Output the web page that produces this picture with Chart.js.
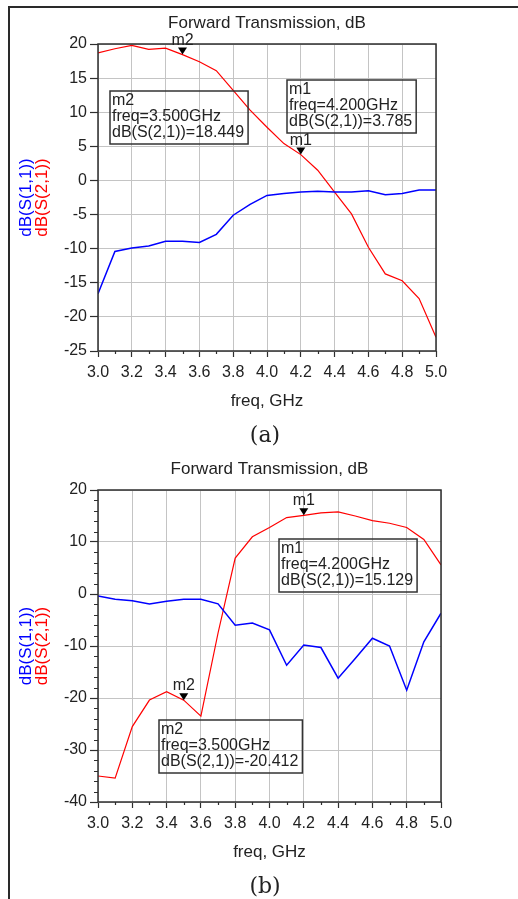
<!DOCTYPE html>
<html>
<head>
<meta charset="utf-8">
<script src="https://cdn.jsdelivr.net/npm/chart.js@4.4.1/dist/chart.umd.min.js"></script>
<style>
  html, body { margin: 0; padding: 0; background: #fff; }
  #page { position: relative; width: 518px; height: 899px; overflow: hidden; }
  #frame { position: absolute; left: 8px; top: 6px; right: -4px; bottom: -4px;
           border-left: 2px solid #2a2a2a; border-top: 2px solid #2a2a2a; }
  canvas { position: absolute; left: 0; }
</style>
</head>
<body>
<div id="page">
  <div id="frame"></div>
  <canvas id="chartA" width="518" height="452" style="top:0"></canvas>
  <canvas id="chartB" width="518" height="447" style="top:452px"></canvas>
</div>
<script>
// frequências (GHz) e rótulos do eixo x
const freqGHz = [3.0, 3.1, 3.2, 3.3, 3.4, 3.5, 3.6, 3.7, 3.8, 3.9, 4.0, 4.1, 4.2, 4.3, 4.4, 4.5, 4.6, 4.7, 4.8, 4.9, 5.0];
const xTickLabels = ['3.0', '3.2', '3.4', '3.6', '3.8', '4.0', '4.2', '4.4', '4.6', '4.8', '5.0'];

// (a)
const s11A = [-16.6, -10.4, -9.9, -9.6, -8.9, -8.9, -9.1, -7.9, -5.1, -3.5, -2.2, -1.9, -1.7, -1.6, -1.7, -1.7, -1.5, -2.1, -1.9, -1.4, -1.4];
const s21A = [18.7, 19.3, 19.8, 19.2, 19.4, 18.449, 17.4, 16.1, 13.2, 10.3, 7.8, 5.4, 3.785, 1.5, -1.7, -4.9, -9.8, -13.7, -14.7, -17.3, -23.0];
const markerNamesA = ['m2', 'm1'];
const markerFreqA = [3.5, 4.2];

// (b)
const s11B = [-0.4, -1.0, -1.3, -1.9, -1.4, -1.0, -1.0, -1.9, -6.0, -5.6, -6.9, -13.7, -9.8, -10.3, -16.2, -12.4, -8.5, -10.0, -18.5, -9.2, -3.7];
const s21B = [-35.0, -35.4, -25.5, -20.4, -18.8, -20.412, -23.5, -7.5, 6.9, 11.0, 12.8, 14.7, 15.129, 15.6, 15.8, 15.0, 14.1, 13.6, 12.8, 10.5, 5.6];
const markerNamesB = ['m1', 'm2'];
const markerFreqB = [4.2, 3.5];

const FONT = "'Liberation Sans', Arial, sans-serif";

// Desenha moldura, ticks menores, títulos e marcadores no estilo ADS
const adsDeco = {
  id: 'adsDeco',
  afterDraw(chart, args, o) {
    const { ctx, chartArea: a, scales: { x, y } } = chart;
    const s21 = chart.data.datasets[1].data;
    ctx.save();

    ctx.strokeStyle = '#2e2e2e';
    ctx.lineWidth = 1.5;
    ctx.strokeRect(a.left, a.top, a.right - a.left, a.bottom - a.top);

    // ticks menores
    ctx.lineWidth = 1.2;
    ctx.beginPath();
    for (let k = 31; k < 50; k += 2) {
      const px = Math.round(x.getPixelForValue(k / 10)) + 0.5;
      ctx.moveTo(px, a.bottom);
      ctx.lineTo(px, a.bottom + 3);
    }
    if (o.yMinor) {
      for (let v = y.min; v <= y.max; v += o.yMinor) {
        if (v % o.yMajor === 0) continue;
        const py = Math.round(y.getPixelForValue(v)) + 0.5;
        ctx.moveTo(a.left - 4, py);
        ctx.lineTo(a.left, py);
      }
    }
    ctx.stroke();

    const cx = (a.left + a.right) / 2;
    ctx.fillStyle = '#222';
    ctx.textAlign = 'center';
    ctx.textBaseline = 'alphabetic';
    ctx.font = '17px ' + FONT;
    ctx.fillText('Forward Transmission, dB', cx, a.top - 16);
    ctx.fillText('freq, GHz', cx, a.bottom + 55);

    ctx.font = '22px "DejaVu Serif", serif';
    ctx.fillText(o.caption, 265, a.bottom + 91);

    // título do eixo y em duas cores
    ctx.font = '17px ' + FONT;
    const cy = (a.top + a.bottom) / 2;
    [['dB(S(1,1))', '#0000ff', 31], ['dB(S(2,1))', '#ff0000', 47]].forEach(([t, c, bx]) => {
      ctx.save();
      ctx.translate(bx, cy);
      ctx.rotate(-Math.PI / 2);
      ctx.fillStyle = c;
      ctx.fillText(t, 0, 0);
      ctx.restore();
    });

    // marcadores
    ctx.font = '16px ' + FONT;
    o.markers.forEach(m => {
      const i = freqGHz.indexOf(m.freq);
      const v = s21[i].y;
      const px = x.getPixelForValue(m.freq);
      const py = y.getPixelForValue(v);
      ctx.fillStyle = '#000';
      ctx.beginPath();
      ctx.moveTo(px - 4.5, py - 7);
      ctx.lineTo(px + 4.5, py - 7);
      ctx.lineTo(px, py);
      ctx.closePath();
      ctx.fill();
      ctx.fillStyle = '#222';
      ctx.textAlign = 'center';
      ctx.fillText(m.name, px, py - 10);

      const lines = [m.name, `freq=${m.freq.toFixed(3)}GHz`, `dB(S(2,1))=${v.toFixed(3)}`];
      const w = Math.max(...lines.map(t => ctx.measureText(t).width)) + 6;
      ctx.strokeStyle = '#333';
      ctx.lineWidth = 1.5;
      ctx.strokeRect(m.box[0], m.box[1], w, 53);
      ctx.textAlign = 'left';
      lines.forEach((t, k) => ctx.fillText(t, m.box[0] + 2, m.box[1] + 13.5 + k * 16.3));
    });
    ctx.restore();
  }
};

function makeChart(id, o) {
  const pts = arr => freqGHz.map((f, i) => ({ x: f, y: arr[i] }));
  return new Chart(document.getElementById(id), {
    type: 'line',
    data: {
      datasets: [
        { label: 'dB(S(1,1))', data: pts(o.s11), borderColor: '#0000ff', borderWidth: 1.5, pointRadius: 0, tension: 0 },
        { label: 'dB(S(2,1))', data: pts(o.s21), borderColor: '#ff0000', borderWidth: 1.2, pointRadius: 0, tension: 0 }
      ]
    },
    options: {
      responsive: false,
      animation: false,
      events: [],
      layout: { padding: { top: o.top, right: o.right, left: 0, bottom: 0 } },
      plugins: {
        legend: { display: false },
        tooltip: { enabled: false },
        adsDeco: { caption: o.caption, markers: o.markers, yMinor: o.yMinor, yMajor: o.yStep }
      },
      scales: {
        x: {
          type: 'linear', min: 3, max: 5,
          afterFit: s => { s.height = o.xHeight; },
          ticks: {
            stepSize: 0.2, autoSkip: false, maxRotation: 0, padding: 6, color: '#222',
            font: { family: FONT, size: 16 },
            callback: (v, i) => xTickLabels[i]
          },
          grid: { color: '#c4c4c4', lineWidth: 1, tickLength: 6, tickColor: '#2e2e2e', tickWidth: 1.2 },
          border: { display: false }
        },
        y: {
          min: o.yMin, max: o.yMax,
          afterFit: s => { s.width = 98; },
          ticks: {
            stepSize: o.yStep, padding: 3, color: '#222',
            font: { family: FONT, size: 16 },
            callback: v => String(v)
          },
          grid: { color: '#c4c4c4', lineWidth: 1, tickLength: 8, tickColor: '#2e2e2e', tickWidth: 1.2 },
          border: { display: false }
        }
      }
    },
    plugins: [adsDeco]
  });
}

// ============ (a) ============ //
makeChart('chartA', {
  s11: s11A, s21: s21A, top: 44, right: 82, xHeight: 101,
  yMin: -25, yMax: 20, yStep: 5, yMinor: 0, caption: '(a)',
  markers: [
    { name: markerNamesA[0], freq: markerFreqA[0], box: [110, 91] },
    { name: markerNamesA[1], freq: markerFreqA[1], box: [287, 80] }
  ]
});

// ============ (b) ============ //
makeChart('chartB', {
  s11: s11B, s21: s21B, top: 38, right: 77, xHeight: 97,
  yMin: -40, yMax: 20, yStep: 10, yMinor: 2, caption: '(b)',
  markers: [
    { name: markerNamesB[0], freq: markerFreqB[0], box: [279, 87] },
    { name: markerNamesB[1], freq: markerFreqB[1], box: [159, 268] }
  ]
});
</script>
</body>
</html>
